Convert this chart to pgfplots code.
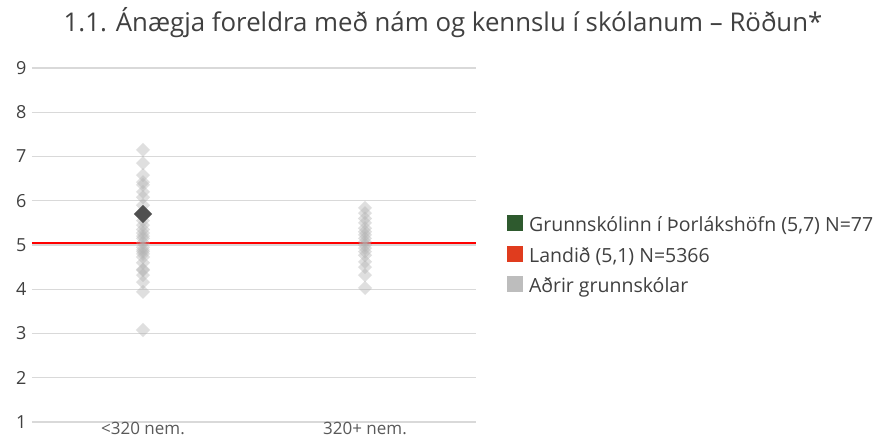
\documentclass[border=0pt]{standalone}
\usepackage{pgfplots}
\pgfplotsset{compat=1.18}
\usepackage{fontspec}
\setmainfont{Open Sans}
\definecolor{txt}{HTML}{404040}
\definecolor{txt2}{HTML}{595959}
\definecolor{gridc}{HTML}{D9D9D9}
\definecolor{ptc}{HTML}{B0B0B0}
\definecolor{darkpt}{HTML}{505050}
\definecolor{schoolc}{HTML}{2E5A2E}
\definecolor{landc}{HTML}{E03C1E}
\definecolor{othc}{HTML}{BDBDBD}
\begin{document}
\begin{tikzpicture}[x=1pt,y=1pt]
\useasboundingbox (0,0) rectangle (874,445);
\node[font=\fontsize{25.8}{28}\selectfont, text=txt] at (443,422) {1.1. Ánægja foreldra með nám og kennslu í skólanum -- Röðun*};
\begin{axis}[
  at={(32pt,23pt)}, anchor=south west,
  scale only axis, width=444pt, height=354pt,
  xmin=-0.5, xmax=1.5, ymin=1, ymax=9,
  xtick={0,1}, xticklabels={{<320 nem.},{320+ nem.}},
  ytick={1,...,9},
  ymajorgrids, grid style={gridc, line width=1.2pt},
  axis line style={draw=none},
  major tick length=0pt,
  tick label style={text=txt},
  yticklabel style={font=\fontsize{18}{20}\selectfont, xshift=-2pt},
  xticklabel style={font=\fontsize{17}{19}\selectfont, text=txt2, yshift=3pt},
  /pgf/number format/assume math mode=true,
  clip=false,
  legend style={at={(1.062,0.47)}, anchor=west, draw=none, fill=none,
    font=\fontsize{19.5}{22}\selectfont, text=txt, row sep=10pt,
    legend cell align=left,
    /tikz/every odd column/.append style={column sep=5pt}},
  legend image code/.code={\fill[#1] (0pt,-5.5pt) rectangle (15pt,9.5pt);},
]
\addplot[ptc, only marks, mark=square*, mark size=5pt, mark options={rotate=45, fill=ptc, draw opacity=0, fill opacity=0.4}, forget plot]
coordinates {
(0,7.15) (0,6.85) (0,6.58) (0,6.42) (0,6.36) (0,6.2) (0,6.08) (0,5.9)
(0,5.45) (0,5.35) (0,5.27) (0,5.15) (0,5.05) (0,4.95) (0,4.89) (0,4.80)
(0,4.73) (0,4.6) (0,4.45) (0,4.43) (0,4.32) (0,4.16) (0,3.94) (0,3.08)
(0,5.55) (0,5.2) (0,4.85)
};
\addplot[ptc, only marks, mark=square*, mark size=5pt, mark options={rotate=45, fill=ptc, draw opacity=0, fill opacity=0.4}, forget plot]
coordinates {
(1,5.84) (1,5.72) (1,5.6) (1,5.5) (1,5.38) (1,5.3) (1,5.23) (1,5.15) (1,5.07)
(1,5.0) (1,4.93) (1,4.85) (1,4.77) (1,4.62) (1,4.5) (1,4.32) (1,4.03)
};
\addplot[red, line width=1.6pt, forget plot] coordinates {(-0.5,5.05) (1.5,5.05)};
\addplot[darkpt, only marks, mark=square*, mark size=6.4pt, mark options={rotate=45, fill=darkpt, draw opacity=0}, forget plot]
coordinates {(0,5.7)};
\addlegendimage{schoolc}
\addlegendentry{Grunnskólinn í Þorlákshöfn (5,7) N=77}
\addlegendimage{landc}
\addlegendentry{Landið (5,1) N=5366}
\addlegendimage{othc}
\addlegendentry{Aðrir grunnskólar}
\end{axis}
\end{tikzpicture}
\end{document}
